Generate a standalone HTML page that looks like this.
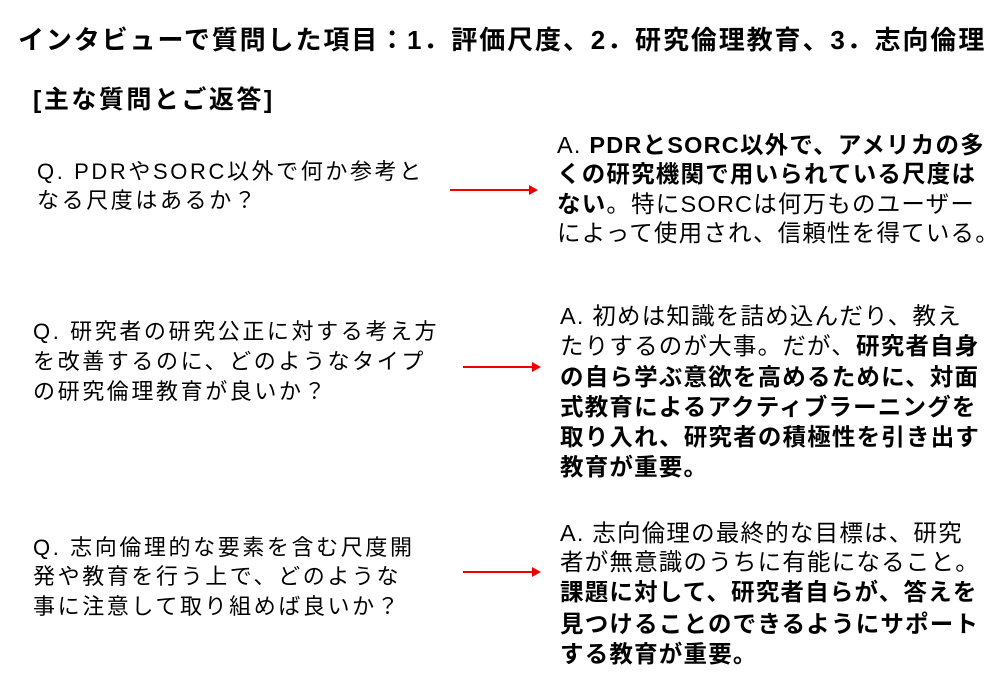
<!DOCTYPE html>
<html><head><meta charset="utf-8"><style>
body{margin:0;width:999px;height:691px;background:#fff;position:relative;overflow:hidden;font-family:"Liberation Sans","Noto Sans CJK JP",sans-serif;color:#000}
.l{position:absolute;white-space:nowrap;line-height:1}
.t{font-size:26px;font-weight:bold;letter-spacing:1.9px}
.h{font-size:25px;font-weight:bold;letter-spacing:2.5px}
.q{font-size:22px;letter-spacing:2.6px}
.a{font-size:23.5px;letter-spacing:1.2px}
b{font-weight:bold}
.ar{position:absolute;height:2px;background:#e00}
.ar:after{content:"";position:absolute;right:-8px;top:-4px;border-left:9px solid #e00;border-top:5px solid transparent;border-bottom:5px solid transparent}
</style></head><body>
<div class="l t" style="left:18px;top:27px">インタビューで質問した項目：1．評価尺度、2．研究倫理教育、3．志向倫理</div>
<div class="l h" style="left:33px;top:88px">[主な質問とご返答]</div>

<div class="l q" style="left:37px;top:161px">Q. PDRやSORC以外で何か参考と</div>
<div class="l q" style="left:37px;top:190px">なる尺度はあるか？</div>
<div class="ar" style="left:450px;top:189px;width:80px"></div>
<div class="l a" style="left:557px;top:134px">A. <b>PDRとSORC以外で、アメリカの多</b></div>
<div class="l a" style="left:557px;top:163px"><b>くの研究機関で用いられている尺度は</b></div>
<div class="l a" style="left:557px;top:193px"><b>ない</b>。特にSORCは何万ものユーザー</div>
<div class="l a" style="left:557px;top:222px">によって使用され、信頼性を得ている。</div>

<div class="l q" style="left:33px;top:321px">Q. 研究者の研究公正に対する考え方</div>
<div class="l q" style="left:33px;top:351px">を改善するのに、どのようなタイプ</div>
<div class="l q" style="left:33px;top:381px">の研究倫理教育が良いか？</div>
<div class="ar" style="left:463px;top:366px;width:70px"></div>
<div class="l a" style="left:560px;top:305px">A. 初めは知識を詰め込んだり、教え</div>
<div class="l a" style="left:560px;top:335px">たりするのが大事。だが、<b>研究者自身</b></div>
<div class="l a" style="left:560px;top:366px"><b>の自ら学ぶ意欲を高めるために、対面</b></div>
<div class="l a" style="left:560px;top:396px"><b>式教育によるアクティブラーニングを</b></div>
<div class="l a" style="left:560px;top:426px"><b>取り入れ、研究者の積極性を引き出す</b></div>
<div class="l a" style="left:560px;top:456px"><b>教育が重要。</b></div>

<div class="l q" style="left:33px;top:537px">Q. 志向倫理的な要素を含む尺度開</div>
<div class="l q" style="left:33px;top:566px">発や教育を行う上で、どのような</div>
<div class="l q" style="left:33px;top:596px">事に注意して取り組めば良いか？</div>
<div class="ar" style="left:463px;top:571px;width:70px"></div>
<div class="l a" style="left:560px;top:522px">A. 志向倫理の最終的な目標は、研究</div>
<div class="l a" style="left:560px;top:551px">者が無意識のうちに有能になること。</div>
<div class="l a" style="left:560px;top:581px"><b>課題に対して、研究者自らが、答えを</b></div>
<div class="l a" style="left:560px;top:613px"><b>見つけることのできるようにサポート</b></div>
<div class="l a" style="left:560px;top:643px"><b>する教育が重要。</b></div>
</body></html>
